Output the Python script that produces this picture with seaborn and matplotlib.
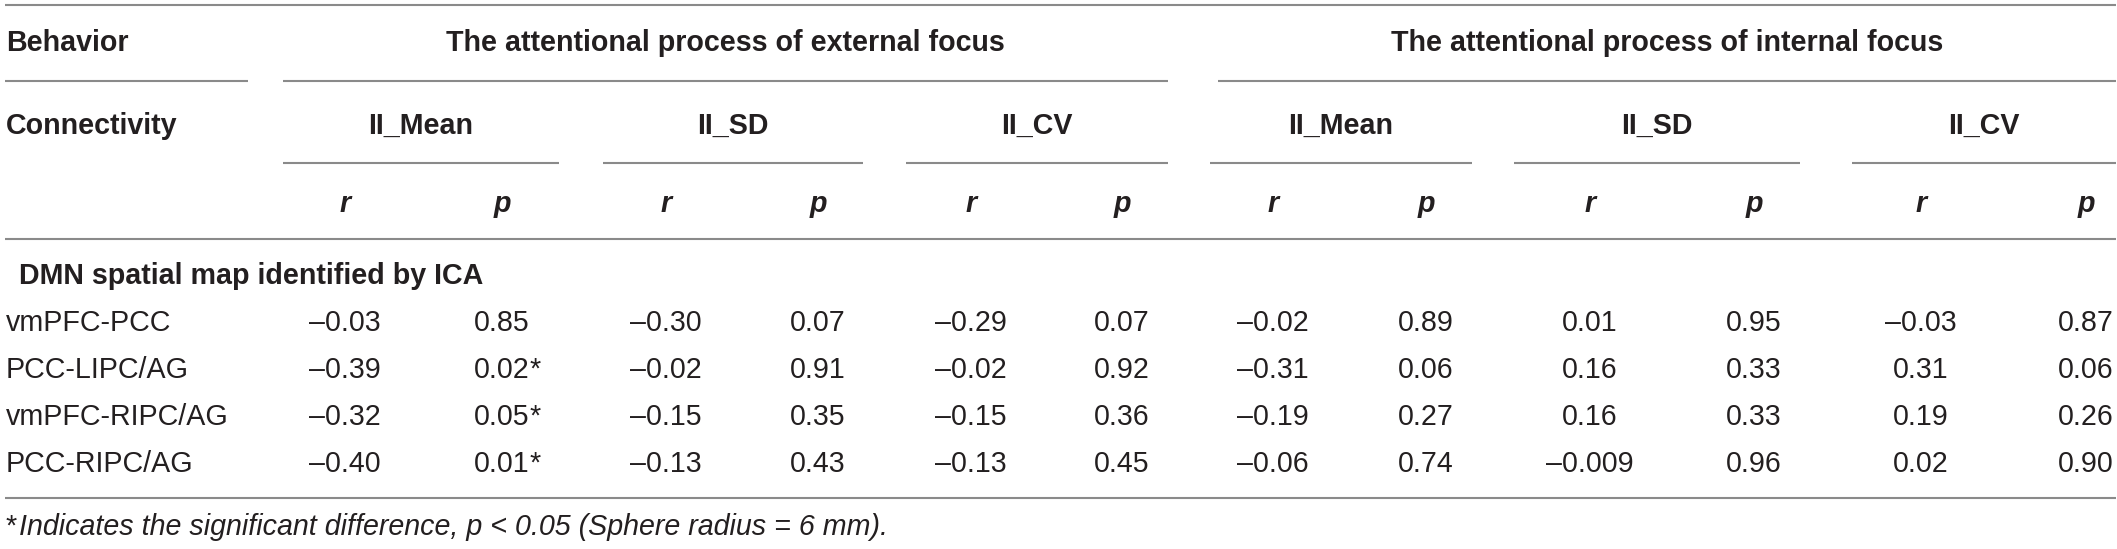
import seaborn as sns
import numpy as np
import pandas as pd
import matplotlib.pyplot as plt

# table values (rows = connectivity pairs)
connectivity = ['vmPFC-PCC', 'PCC-LIPC/AG', 'vmPFC-RIPC/AG', 'PCC-RIPC/AG']
behaviors = ['The attentional process of external focus', 'The attentional process of internal focus']
measures = ['II_Mean', 'II_SD', 'II_CV']
stats = ['r', 'p']

ext_mean_r = [-0.03, -0.39, -0.32, -0.40]
ext_mean_p = [0.85, 0.02, 0.05, 0.01]
ext_sd_r = [-0.30, -0.02, -0.15, -0.13]
ext_sd_p = [0.07, 0.91, 0.35, 0.43]
ext_cv_r = [-0.29, -0.02, -0.15, -0.13]
ext_cv_p = [0.07, 0.92, 0.36, 0.45]
int_mean_r = [-0.02, -0.31, -0.19, -0.06]
int_mean_p = [0.89, 0.06, 0.27, 0.74]
int_sd_r = [0.01, 0.16, 0.16, -0.009]
int_sd_p = [0.95, 0.33, 0.33, 0.96]
int_cv_r = [-0.03, 0.31, 0.19, 0.02]
int_cv_p = [0.87, 0.06, 0.26, 0.90]

section_title = 'DMN spatial map identified by ICA'
footnote = 'Indicates the significant difference, p < 0.05 (Sphere radius = 6 mm).'

cols = pd.MultiIndex.from_product([behaviors, measures, stats])
df = pd.DataFrame(np.column_stack([ext_mean_r, ext_mean_p, ext_sd_r, ext_sd_p, ext_cv_r, ext_cv_p,
                                   int_mean_r, int_mean_p, int_sd_r, int_sd_p, int_cv_r, int_cv_p]),
                  index=connectivity, columns=cols)

def fmt(v):
    s = '%.3f' % abs(v) if (abs(v) < 0.01 and v != 0) else '%.2f' % abs(v)
    return ('\u2013' + s) if v < 0 else s

sns.set_theme(style='white')
plt.rcParams['font.family'] = ['Liberation Sans', 'DejaVu Sans']

W, H = 2117, 549
fig = plt.figure(figsize=(W / 100, H / 100), dpi=100)
ax = fig.add_axes([0, 0, 1, 1])
ax.set_xlim(0, W)
ax.set_ylim(H, 0)
ax.axis('off')

txt = '#231f20'
rule = '#8a8a8a'
fs = 20.6

# column layout
col_x = [345, 502, 666, 818, 971, 1122, 1273, 1426, 1590, 1754, 1921, 2086]
sub_spans = [(283, 559), (603, 863), (906, 1168), (1210, 1472), (1514, 1800), (1852, 2116)]
beh_spans = [(283, 1168), (1218, 2116)]
left_x = 6

# rules
ax.hlines(5, 5, 2116, color=rule, lw=1.5)
ax.hlines(81, 5, 248, color=rule, lw=1.5)
for a, b in beh_spans:
    ax.hlines(81, a, b, color=rule, lw=1.5)
for a, b in sub_spans:
    ax.hlines(163, a, b, color=rule, lw=1.5)
ax.hlines(239, 5, 2116, color=rule, lw=1.5)
ax.hlines(498, 5, 2116, color=rule, lw=1.5)

# header
ax.text(left_x, 51, 'Behavior', fontsize=fs, fontweight='bold', color=txt, va='baseline')
ax.text(left_x, 134, 'Connectivity', fontsize=fs, fontweight='bold', color=txt, va='baseline')
for (a, b), name in zip(beh_spans, behaviors):
    ax.text((a + b) / 2, 51, name, fontsize=fs, fontweight='bold', color=txt, ha='center', va='baseline')
for i, (a, b) in enumerate(sub_spans):
    ax.text((a + b) / 2, 134, measures[i % 3], fontsize=fs, fontweight='bold', color=txt,
            ha='center', va='baseline')
for i, x in enumerate(col_x[:len(cols)]):
    ax.text(x, 212, stats[i % 2], fontsize=fs, fontweight='bold', fontstyle='italic', color=txt,
            ha='center', va='baseline')

# body
ax.text(19, 284, section_title, fontsize=fs, fontweight='bold', color=txt, va='baseline')
row_y = [331, 378, 425, 472]
for j, name in enumerate(df.index):
    ax.text(left_x, row_y[j], name, fontsize=fs, color=txt, va='baseline')
    for i, c in enumerate(df.columns):
        v = df.loc[name, c]
        t = ax.text(col_x[i], row_y[j], fmt(v), fontsize=fs, color=txt, ha='center', va='baseline')
        if c[2] == 'p' and v <= 0.05:
            ax.annotate('*', xy=(1, 0), xycoords=t, fontsize=fs, color=txt, ha='left', va='bottom')

# footnote
ax.text(6, 535, '*', fontsize=fs, color=txt, va='baseline')
ax.text(19, 535, footnote, fontsize=fs, fontstyle='italic', color=txt, va='baseline')

fig.savefig('out.png', dpi=100, facecolor='white')
